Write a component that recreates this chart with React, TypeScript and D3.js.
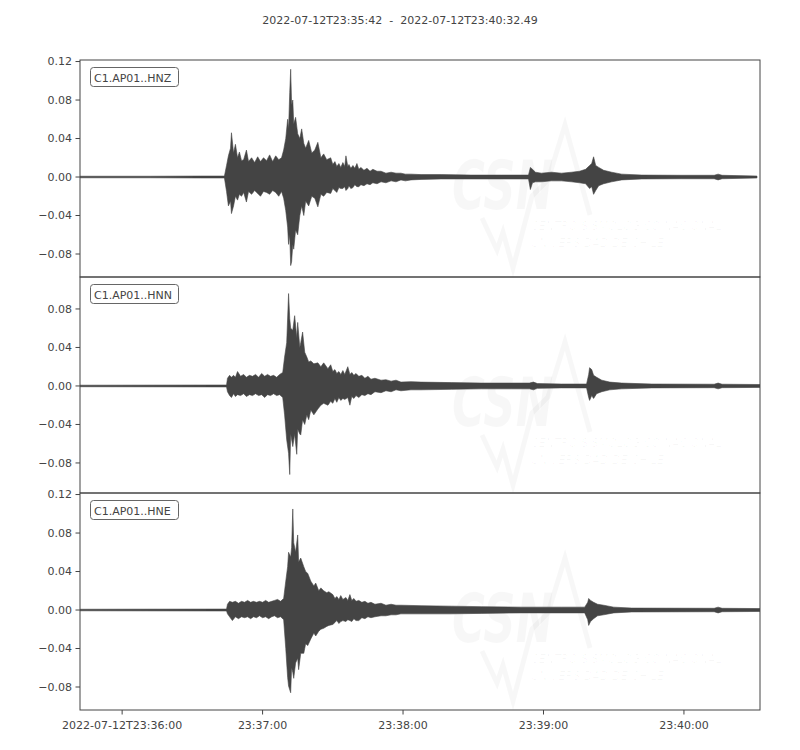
import React from 'react';
import * as d3 from 'd3';

// trace start 2022-07-12T23:35:42, times below are seconds after start
const startTime = new Date(Date.UTC(2022, 6, 12, 23, 35, 42));
const duration = 290.49;
const title = '2022-07-12T23:35:42  -  2022-07-12T23:40:32.49';
const channels = ['C1.AP01..HNZ', 'C1.AP01..HNN', 'C1.AP01..HNE'];

// envelopes: [seconds, max, min]
const hnz: [number, number, number][] = [
  [0, 0.0008, -0.0008], [30, 0.0008, -0.0008], [51.4, 0.001, -0.001], [61.7, 0.001, -0.001],
  [62.6, 0.012, -0.015], [63.4, 0.022, -0.03], [64.3, 0.03, -0.025], [64.7, 0.046, -0.038],
  [65.6, 0.025, -0.03], [66.4, 0.034, -0.02], [67.3, 0.02, -0.024], [68.1, 0.026, -0.018],
  [69.0, 0.017, -0.02], [69.9, 0.018, -0.016], [71.1, 0.028, -0.026], [72.0, 0.016, -0.015],
  [73.3, 0.02, -0.018], [74.6, 0.015, -0.014], [75.9, 0.021, -0.017], [77.1, 0.016, -0.02],
  [78.4, 0.02, -0.015], [79.7, 0.017, -0.016], [81.0, 0.023, -0.018], [82.3, 0.016, -0.014],
  [83.6, 0.022, -0.016], [84.9, 0.018, -0.02], [86.1, 0.02, -0.015], [87.0, 0.028, -0.022],
  [87.9, 0.04, -0.035], [88.7, 0.06, -0.052], [89.1, 0.05, -0.07], [89.6, 0.088, -0.06],
  [90.0, 0.112, -0.092], [90.4, 0.075, -0.088], [90.9, 0.08, -0.07], [91.3, 0.055, -0.075],
  [92.1, 0.062, -0.055], [93.0, 0.045, -0.06], [93.9, 0.04, -0.04], [94.7, 0.05, -0.03],
  [95.6, 0.035, -0.04], [96.4, 0.03, -0.025], [97.7, 0.038, -0.03], [99.0, 0.025, -0.02],
  [100.3, 0.028, -0.022], [101.6, 0.036, -0.031], [102.9, 0.02, -0.018], [104.1, 0.024, -0.02],
  [105.4, 0.018, -0.016], [107.1, 0.02, -0.017], [108.0, 0.013, -0.012], [108.9, 0.016, -0.014],
  [109.7, 0.011, -0.016], [110.6, 0.014, -0.011], [111.4, 0.01, -0.012], [112.3, 0.015, -0.012],
  [113.1, 0.011, -0.01], [113.6, 0.022, -0.014], [114.4, 0.011, -0.012], [114.9, 0.013, -0.009],
  [115.7, 0.009, -0.012], [116.6, 0.012, -0.011], [117.4, 0.009, -0.008], [118.3, 0.014, -0.01],
  [119.1, 0.008, -0.01], [120.0, 0.01, -0.008], [121.3, 0.007, -0.009], [122.6, 0.009, -0.007],
  [123.9, 0.006, -0.008], [125.1, 0.008, -0.006], [126.9, 0.006, -0.007], [128.6, 0.006, -0.005],
  [130.7, 0.004, -0.006], [132.9, 0.005, -0.004], [135, 0.004, -0.005], [137.1, 0.004, -0.003],
  [139, 0.003, -0.004], [141.4, 0.003, -0.003],
  [145.7, 0.0025, -0.0025], [154.3, 0.0025, -0.002], [167.1, 0.002, -0.002], [180, 0.002, -0.002],
  [191.6, 0.002, -0.002], [192.4, 0.01, -0.013], [193.3, 0.008, -0.006], [194.6, 0.005, -0.005],
  [197.1, 0.004, -0.005], [201.4, 0.005, -0.004], [205.7, 0.004, -0.004], [210, 0.005, -0.005],
  [213.4, 0.006, -0.006], [216, 0.008, -0.007], [217.7, 0.012, -0.012], [218.6, 0.014, -0.01],
  [219.4, 0.021, -0.018], [220.3, 0.012, -0.014], [221.6, 0.01, -0.009], [223.7, 0.007, -0.007],
  [227.1, 0.005, -0.005], [231.4, 0.003, -0.003], [240, 0.002, -0.002], [257.1, 0.0018, -0.0018],
  [270.9, 0.0018, -0.0018], [272.6, 0.003, -0.003], [274.3, 0.0018, -0.0018], [289.2, 0.001, -0.001],
];

const hnn: [number, number, number][] = [
  [0, 0.0008, -0.0008], [62.6, 0.001, -0.001], [63.0, 0.008, -0.006], [63.9, 0.011, -0.01],
  [64.7, 0.009, -0.012], [65.6, 0.011, -0.008], [66.4, 0.009, -0.011], [67.3, 0.015, -0.009],
  [68.6, 0.01, -0.01], [69.9, 0.012, -0.008], [71.1, 0.009, -0.011], [72.4, 0.011, -0.009],
  [73.7, 0.01, -0.01], [75.0, 0.012, -0.008], [76.3, 0.009, -0.01], [77.6, 0.013, -0.009],
  [78.9, 0.01, -0.012], [80.1, 0.012, -0.009], [81.4, 0.01, -0.01], [82.7, 0.011, -0.008],
  [84.0, 0.009, -0.01], [85.3, 0.012, -0.009], [86.6, 0.014, -0.012], [87.4, 0.03, -0.03],
  [88.3, 0.045, -0.056], [89.1, 0.096, -0.07], [89.6, 0.07, -0.092], [90.0, 0.06, -0.05],
  [90.9, 0.058, -0.063], [91.7, 0.073, -0.05], [92.6, 0.05, -0.071], [93.0, 0.066, -0.045],
  [93.9, 0.04, -0.05], [94.3, 0.045, -0.051], [95.1, 0.056, -0.035], [96.0, 0.035, -0.04],
  [96.9, 0.03, -0.03], [97.7, 0.025, -0.035], [98.6, 0.026, -0.025], [99.9, 0.023, -0.03],
  [101.6, 0.024, -0.024], [102.9, 0.02, -0.02], [104.1, 0.024, -0.018], [105.9, 0.018, -0.02],
  [107.1, 0.022, -0.016], [108.0, 0.015, -0.018], [108.9, 0.017, -0.013], [109.7, 0.013, -0.017],
  [110.6, 0.015, -0.012], [111.4, 0.012, -0.015], [112.3, 0.016, -0.013], [113.1, 0.012, -0.014],
  [114.4, 0.02, -0.012], [115.3, 0.012, -0.02], [116.1, 0.014, -0.011], [117.0, 0.011, -0.013],
  [117.9, 0.013, -0.01], [119.1, 0.01, -0.012], [120.4, 0.011, -0.009], [121.7, 0.008, -0.01],
  [123.0, 0.01, -0.008], [124.3, 0.007, -0.009], [126, 0.008, -0.006], [128.6, 0.006, -0.007],
  [130.7, 0.0065, -0.005], [132.9, 0.005, -0.006], [135, 0.006, -0.004], [137.1, 0.004, -0.005],
  [141.4, 0.0045, -0.004], [145.7, 0.004, -0.004], [158.6, 0.0035, -0.0035], [171.4, 0.003, -0.003],
  [184.3, 0.003, -0.003], [192, 0.003, -0.003], [193.7, 0.004, -0.004], [195.4, 0.0025, -0.0025],
  [205.7, 0.002, -0.002], [216.4, 0.002, -0.002], [217.3, 0.012, -0.012], [217.7, 0.019, -0.015],
  [218.6, 0.017, -0.01], [219.4, 0.011, -0.013], [220.7, 0.009, -0.008], [222.9, 0.006, -0.006],
  [226.3, 0.004, -0.004], [231.4, 0.003, -0.003], [244.3, 0.002, -0.002], [270.9, 0.0018, -0.0018],
  [272.6, 0.003, -0.003], [274.3, 0.0018, -0.0018], [290.49, 0.0015, -0.0015],
];

const hne: [number, number, number][] = [
  [0, 0.0008, -0.0008], [62.6, 0.001, -0.001], [63.0, 0.006, -0.004], [63.9, 0.009, -0.007],
  [65.1, 0.008, -0.011], [66.4, 0.009, -0.007], [67.7, 0.007, -0.009], [69.0, 0.009, -0.007],
  [70.3, 0.008, -0.008], [71.6, 0.01, -0.007], [72.9, 0.008, -0.009], [74.1, 0.009, -0.007],
  [75.4, 0.008, -0.008], [76.7, 0.009, -0.006], [78.0, 0.008, -0.008], [79.3, 0.01, -0.007],
  [80.6, 0.008, -0.009], [81.9, 0.009, -0.007], [83.1, 0.01, -0.006], [84.4, 0.011, -0.008],
  [85.7, 0.009, -0.007], [87.0, 0.012, -0.01], [87.9, 0.03, -0.04], [88.7, 0.045, -0.07],
  [89.1, 0.06, -0.079], [90.0, 0.055, -0.086], [90.4, 0.065, -0.06], [90.9, 0.105, -0.065],
  [91.3, 0.07, -0.071], [92.1, 0.06, -0.055], [93.0, 0.078, -0.05], [93.4, 0.05, -0.062],
  [94.3, 0.054, -0.045], [95.6, 0.045, -0.045], [96.4, 0.04, -0.035], [97.3, 0.038, -0.037],
  [98.6, 0.03, -0.03], [99.9, 0.025, -0.024], [100.7, 0.028, -0.027], [102.0, 0.02, -0.022],
  [102.9, 0.023, -0.02], [104.1, 0.02, -0.019], [105.4, 0.018, -0.017], [106.3, 0.019, -0.016],
  [108.0, 0.016, -0.015], [108.9, 0.012, -0.013], [109.7, 0.014, -0.011], [110.6, 0.011, -0.014],
  [111.4, 0.015, -0.012], [112.3, 0.011, -0.011], [113.6, 0.013, -0.012], [114.4, 0.01, -0.01],
  [115.3, 0.016, -0.011], [116.1, 0.01, -0.012], [117.0, 0.012, -0.009], [117.9, 0.009, -0.011],
  [119.1, 0.01, -0.011], [120.4, 0.008, -0.008], [121.7, 0.009, -0.009], [123.0, 0.007, -0.007],
  [124.3, 0.008, -0.008], [126, 0.006, -0.007], [128.6, 0.007, -0.006], [130.7, 0.005, -0.006],
  [132.9, 0.006, -0.005], [135, 0.005, -0.005], [137.1, 0.005, -0.004],
  [145.7, 0.0045, -0.004], [158.6, 0.004, -0.004], [171.4, 0.0035, -0.0035], [188.6, 0.003, -0.003],
  [205.7, 0.003, -0.003], [215.6, 0.003, -0.003], [216.9, 0.008, -0.01], [217.3, 0.012, -0.016],
  [218.1, 0.01, -0.012], [219.4, 0.008, -0.009], [221.1, 0.006, -0.006], [223.7, 0.005, -0.005],
  [228, 0.003, -0.003], [235.7, 0.002, -0.002], [270.9, 0.0018, -0.0018], [272.6, 0.003, -0.003],
  [274.3, 0.0018, -0.0018], [290.49, 0.0015, -0.0015],
];

const traces = [hnz, hnn, hne];
// visible amplitude range of each panel
const yRanges: [number, number][] = [[-0.1039, 0.1216], [-0.1112, 0.1132], [-0.1039, 0.1216]];
const yTicks = [-0.08, -0.04, 0, 0.04, 0.08, 0.12];
const xTicks = [18, 78, 138, 198, 258]; // 23:36:00 ... 23:40:00

const W = 800;
const H = 750;
const left = 80;
const right = 760;
const panelTops = [60, 277, 493];
const panelBottoms = [277, 493, 710];
const ink = '#444';
const font = '"DejaVu Sans", sans-serif';

const x = d3.scaleLinear().domain([0, duration]).range([left, right]);
const fmtTime = d3.utcFormat('%H:%M:%S');
const fmtFull = d3.utcFormat('%Y-%m-%dT%H:%M:%S');
const fmtY = (v: number) => (v < 0 ? '\u2212' : '') + Math.abs(v).toFixed(2);

// faint station logo behind each trace
const Watermark: React.FC<{ top: number }> = ({ top }) => (
  <g transform={`translate(0,${top - 60})`} fill="#000" fillOpacity={0.03} fontFamily={font}>
    <text transform="translate(452,209) scale(0.66,1)" fontSize={68} fontWeight="bold"
      fontStyle="italic">CSN</text>
    <path d="M482,218 L497,250 L503,232 L513,268 L532,196 L548,180 L565,125 L590,215"
      fill="none" stroke="#000" strokeOpacity={0.03} strokeWidth={5} />
    <text transform="translate(531,230) scale(0.86,1)" fontSize={13} fontStyle="italic">
      CENTRO SISMOLÓGICO NACIONAL
    </text>
    <text transform="translate(531,247) scale(0.86,1)" fontSize={13} fontStyle="italic">
      UNIVERSIDAD DE CHILE
    </text>
  </g>
);

const App: React.FC = () => {
  return (
    <svg width={W} height={H} style={{ position: 'absolute', left: 0, top: 0, background: '#fff' }}>
      <text x={W / 2} y={24} textAnchor="middle" fontFamily={font} fontSize={11} fill={ink}
        style={{ whiteSpace: 'pre' }}>{title}</text>
      {traces.map((data, i) => {
        const top = panelTops[i];
        const bottom = panelBottoms[i];
        const y = d3.scaleLinear().domain(yRanges[i]).range([bottom, top]);
        const area = d3.area<[number, number, number]>()
          .x(d => x(d[0]))
          .y0(d => y(d[2]))
          .y1(d => y(d[1]));
        const ticks = yTicks.filter(t => y(t) >= top - 0.5 && y(t) <= bottom);
        return (
          <g key={channels[i]}>
            <defs>
              <clipPath id={`clip${i}`}>
                <rect x={left} y={top} width={right - left} height={bottom - top} />
              </clipPath>
            </defs>
            <g clipPath={`url(#clip${i})`}>
              <Watermark top={top} />
              <path d={area(data) ?? ''} fill={ink} stroke={ink} strokeWidth={0.6} strokeLinejoin="miter" />
            </g>
            <rect x={left} y={top} width={right - left} height={bottom - top}
              fill="none" stroke={ink} strokeWidth={1} />
            {ticks.map(t => (
              <g key={t}>
                <line x1={left - 4.5} x2={left} y1={y(t)} y2={y(t)} stroke={ink} />
                <text x={left - 8} y={y(t)} dy="0.36em" textAnchor="end"
                  fontFamily={font} fontSize={11} fill={ink}>{fmtY(t)}</text>
              </g>
            ))}
            <rect x={90.5} y={top + 7.5} width={88} height={19} rx={3}
              fill="#fff" stroke="#666" strokeWidth={1} />
            <text x={94} y={top + 21.5} fontFamily={font} fontSize={11} fill={ink}>{channels[i]}</text>
          </g>
        );
      })}
      {xTicks.map((s, k) => {
        const d = new Date(startTime.getTime() + s * 1000);
        return (
          <g key={s}>
            <line x1={x(s)} x2={x(s)} y1={710} y2={714.5} stroke={ink} />
            <text x={x(s)} y={729} textAnchor="middle" fontFamily={font} fontSize={11} fill={ink}>
              {k === 0 ? fmtFull(d) : fmtTime(d)}
            </text>
          </g>
        );
      })}
    </svg>
  );
};

export default App;
